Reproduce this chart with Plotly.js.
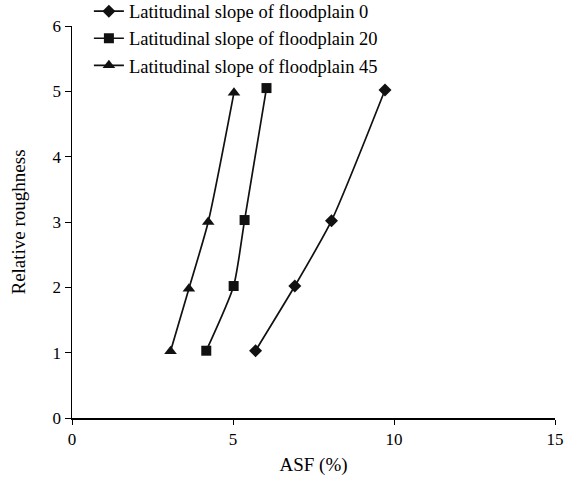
<!DOCTYPE html>
<html>
<head>
<meta charset="utf-8">
<script src="https://cdn.plot.ly/plotly-3.0.1.min.js"></script>
<style>html,body{margin:0;padding:0;background:#fff;}#chart{width:568px;height:478px;}</style>
</head>
<body>
<div id="chart"></div>
<script>
const seriesNames = ["Latitudinal slope of floodplain 0", "Latitudinal slope of floodplain 20", "Latitudinal slope of floodplain 45"];
const asf0 = [5.70, 6.92, 8.06, 9.72];
const asf20 = [4.17, 5.02, 5.36, 6.04];
const asf45 = [3.06, 3.63, 4.23, 5.03];
const rough0 = [1.03, 2.02, 3.02, 5.02];
const rough20 = [1.03, 2.02, 3.03, 5.05];
const rough45 = [1.02, 1.98, 3.0, 4.98];
const xTicks = [0, 5, 10, 15];
const yTicks = [0, 1, 2, 3, 4, 5, 6];

const font = {family: "Liberation Serif, Times New Roman, serif", color: "#000"};
function tr(name, x, y, sym, size) {
  return {
    type: "scatter", mode: "lines+markers", name: name, x: x, y: y,
    line: {color: "#111", width: 1.7, shape: "spline", smoothing: 0.6},
    marker: {symbol: sym, size: size, color: "#111"}
  };
}
const data = [
  tr(seriesNames[0], asf0, rough0, "diamond", 10),
  tr(seriesNames[1], asf20, rough20, "square", 10),
  tr(seriesNames[2], asf45, rough45, "triangle-up", 11)
];
const layout = {
  width: 568, height: 478,
  margin: {l: 72, r: 13, t: 26, b: 60, autoexpand: false},
  paper_bgcolor: "#fff", plot_bgcolor: "#fff",
  font: Object.assign({size: 17}, font),
  showlegend: true,
  legend: {x: 0.035, y: 1.085, xanchor: "left", yanchor: "top", bgcolor: "rgba(0,0,0,0)",
    font: Object.assign({size: 18.5}, font), tracegroupgap: 0, itemwidth: 30},
  xaxis: {range: [0, 15], tickvals: xTicks, ticktext: xTicks.map(String), showgrid: false, zeroline: false,
    automargin: false,
    showline: true, linecolor: "#000", linewidth: 1.5, ticks: "outside", ticklen: 5, tickcolor: "#000",
    title: {text: "ASF (%)", font: Object.assign({size: 19}, font), standoff: 10}},
  yaxis: {range: [0, 6], tickvals: yTicks, ticktext: yTicks.map(String), showgrid: false, zeroline: false,
    automargin: false,
    showline: true, linecolor: "#000", linewidth: 1.5, ticks: "outside", ticklen: 6, tickcolor: "#000",
    title: {text: "Relative roughness", font: Object.assign({size: 19}, font), standoff: 22}}
};
Plotly.newPlot("chart", data, layout, {displayModeBar: false, staticPlot: true});
</script>
</body>
</html>
